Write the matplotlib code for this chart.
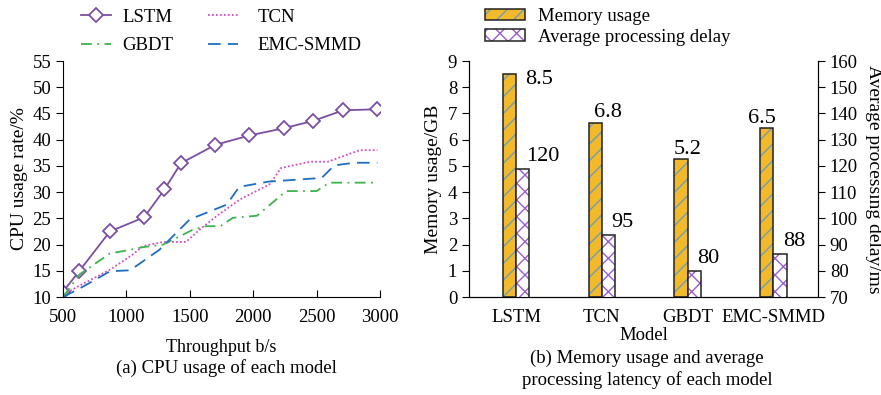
import numpy as np
import matplotlib
matplotlib.use('Agg')
import matplotlib.pyplot as plt

plt.rcParams['font.family'] = ['Liberation Serif', 'DejaVu Serif']
plt.rcParams['hatch.linewidth'] = 1.0

# (a) CPU usage vs throughput
lstm_x = [500, 630, 870, 1140, 1300, 1430, 1700, 1970, 2245, 2475, 2710, 2980]
lstm_y = [11, 15, 22.5, 25.2, 30.5, 35.5, 39, 40.8, 42.2, 43.6, 45.6, 45.8]
tcn_x = [500, 870, 1050, 1130, 1290, 1470, 1580, 1710, 1895, 2130, 2220, 2450, 2590, 2840, 2980]
tcn_y = [10.5, 15.2, 18.1, 19.7, 20.5, 20.5, 22.9, 25.4, 28.6, 31.5, 34.6, 35.8, 35.8, 38, 38]
gbdt_x = [500, 630, 870, 1030, 1130, 1290, 1530, 1630, 1740, 1840, 2030, 2260, 2500, 2600, 2980]
gbdt_y = [10, 14.3, 18.3, 19.0, 19.5, 20, 22.9, 23.5, 23.5, 25.1, 25.5, 30.2, 30.2, 31.8, 31.8]
emc_x = [500, 660, 870, 1030, 1260, 1500, 1790, 1890, 2120, 2540, 2640, 2800, 2980]
emc_y = [10, 12, 14.9, 15.1, 19, 24.8, 27.6, 31, 32, 32.7, 35.1, 35.6, 35.6]

# (b) memory usage and delay
models = ['LSTM', 'TCN', 'GBDT', 'EMC-SMMD']
memory = [8.5, 6.65, 5.25, 6.45]
memory_labels = ['8.5', '6.8', '5.2', '6.5']
delay = [119, 93.5, 80, 86.5]
delay_labels = ['120', '95', '80', '88']

W, H = 881, 395
fig = plt.figure(figsize=(W / 100, H / 100), dpi=100)
px = 0.72  # points per pixel

ax1 = fig.add_axes([63 / W, (H - 297) / H, 317 / W, 236 / H])
l_lstm, = ax1.plot(lstm_x, lstm_y, color='#7a4fa3', lw=1.3, marker='D', ms=7,
                   mfc='white', mec='#7a4fa3', mew=1.3, label='LSTM')
l_tcn, = ax1.plot(tcn_x, tcn_y, color='#d44fc0', lw=1.3, ls=(0, (1, 1.2)), label='TCN')
l_gbdt, = ax1.plot(gbdt_x, gbdt_y, color='#3cb44a', lw=1.3, ls=(0, (6, 3, 1, 3)), label='GBDT')
l_emc, = ax1.plot(emc_x, emc_y, color='#1f6fc0', lw=1.3, ls=(0, (7, 4)), label='EMC-SMMD')
ax1.set_xlim(500, 3000)
ax1.set_ylim(10, 55)
ax1.set_xticks(np.arange(500, 3001, 500))
ax1.set_yticks(np.arange(10, 56, 5))
ax1.spines['top'].set_visible(False)
ax1.spines['right'].set_visible(False)
ax1.tick_params(axis='x', direction='in', labelsize=13.5, length=5, pad=9)
ax1.tick_params(axis='y', direction='out', labelsize=13.5, length=5)
ax1.set_xlabel('Throughput b/s', fontsize=13, labelpad=9)
ax1.set_ylabel('CPU usage rate/%', fontsize=14, labelpad=3)
leg_a1 = fig.legend([l_lstm, l_gbdt], ['LSTM', 'GBDT'],
                    loc='upper left', bbox_to_anchor=(64 / W, 1 + 8 / H), frameon=False,
                    fontsize=13.5, handlelength=1.6, handletextpad=0.6, labelspacing=0.6)
leg_a2 = fig.legend([l_tcn, l_emc], ['TCN', 'EMC-SMMD'],
                    loc='upper left', bbox_to_anchor=(191 / W, 1 + 8 / H), frameon=False,
                    fontsize=13.5, handlelength=1.6, handletextpad=1.05, labelspacing=0.6)
fig.text(226 / W, 1 - 368 / H, '(a) CPU usage of each model', ha='center', va='center', fontsize=13.5)

ax2 = fig.add_axes([469 / W, (H - 297) / H, 349 / W, 236 / H])
ax3 = ax2.twinx()
x = np.arange(len(models))
bw = 0.155
b1 = ax2.bar(x - bw / 2, memory, bw, color='#f2b92a', edgecolor='#222222', lw=1.1,
             hatch='//', label='Memory usage')
for p in b1:
    p._hatch_color = matplotlib.colors.to_rgba('#6f9fb8')
b2 = ax3.bar(x + bw / 2, delay, bw, color='white', edgecolor='#222222', lw=1.1,
             hatch='xx', label='Average processing delay')
for p in b2:
    p._hatch_color = matplotlib.colors.to_rgba('#9a5fcc')
ax2.set_xlim(-0.55, 3.52)
ax2.set_ylim(0, 9)
ax3.set_ylim(70, 160)
ax2.set_yticks(range(0, 10))
ax3.set_yticks(range(70, 161, 10))
ax2.set_xticks(x)
ax2.set_xticklabels(models)
ax2.spines['top'].set_visible(False)
ax3.spines['top'].set_visible(False)
ax2.tick_params(axis='x', length=0, labelsize=13.5, pad=9)
ax2.tick_params(axis='y', direction='out', labelsize=13.5, length=5)
ax3.tick_params(axis='y', direction='out', labelsize=13.5, length=5)
ax2.set_xlabel('Model', fontsize=13.5, labelpad=0)
ax2.set_ylabel('Memory usage/GB', fontsize=14, labelpad=4)
ax3.set_ylabel('Average processing delay/ms', fontsize=14, rotation=270, labelpad=17)

# label offsets in pixels (left edge, baseline) from bar centre / top
mem_off = [(16, -10), (-1, 6), (-7, 5), (-19, 5)]
for xi, v, s, (dx, dy) in zip(x, memory, memory_labels, mem_off):
    ax2.annotate(s, (xi - bw / 2, v), xytext=(dx * px, dy * px), textcoords='offset points',
                 fontsize=16, ha='left', va='baseline')
for xi, v, s in zip(x, delay, delay_labels):
    ax3.annotate(s, (xi + bw / 2, v), xytext=(3 * px, 8 * px), textcoords='offset points',
                 fontsize=16, ha='left', va='baseline')

fig.legend([b1, b2], ['Memory usage', 'Average processing delay'], loc='upper left',
           bbox_to_anchor=(468 / W, 1 + 9 / H), frameon=False, fontsize=13.5,
           handlelength=2.15, handleheight=0.55, handletextpad=0.7, labelspacing=0.2)

fig.text(647 / W, 1 - 358 / H, '(b) Memory usage and average', ha='center', va='center', fontsize=13.5)
fig.text(647 / W, 1 - 380 / H, 'processing latency of each model', ha='center', va='center', fontsize=13.5)

fig.savefig('out.png', dpi=100)
